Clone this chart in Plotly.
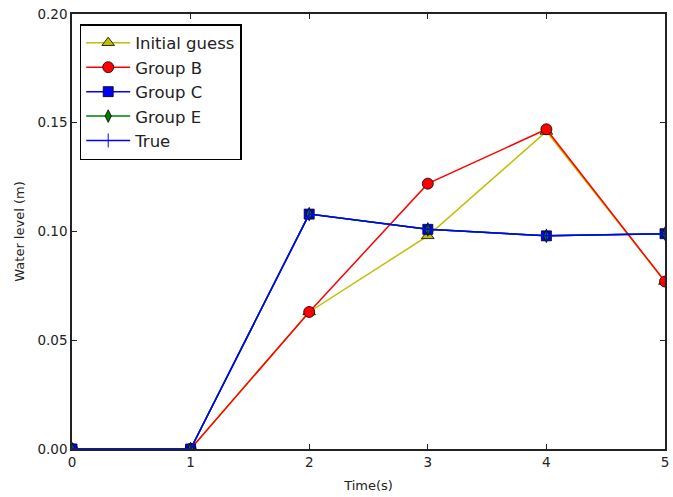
import plotly.graph_objects as go

time_s = [0, 1, 2, 3, 4, 5]
initial_guess = [0.0, 0.0, 0.063, 0.098, 0.146, 0.077]
group_b = [0.0, 0.0, 0.063, 0.122, 0.147, 0.077]
group_c = [0.0, 0.0, 0.108, 0.101, 0.098, 0.099]
group_e = [0.0, 0.0, 0.108, 0.101, 0.098, 0.099]
true_vals = [0.0, 0.0, 0.108, 0.101, 0.098, 0.099]

fig = go.Figure()
fig.add_trace(go.Scatter(x=time_s, y=initial_guess, name="Initial guess", mode="lines+markers",
                         line=dict(color="#bfbf00", width=1.5),
                         marker=dict(symbol="triangle-up", size=11, color="#bfbf00",
                                     line=dict(color="black", width=0.8))))
fig.add_trace(go.Scatter(x=time_s, y=group_b, name="Group B", mode="lines+markers",
                         line=dict(color="#ff0000", width=1.5),
                         marker=dict(symbol="circle", size=11, color="#ff0000",
                                     line=dict(color="black", width=0.8))))
fig.add_trace(go.Scatter(x=time_s, y=group_c, name="Group C", mode="lines+markers",
                         line=dict(color="#0000ff", width=1.5),
                         marker=dict(symbol="square", size=10, color="#0000ff",
                                     line=dict(color="black", width=0.8))))
fig.add_trace(go.Scatter(x=time_s, y=group_e, name="Group E", mode="lines+markers",
                         line=dict(color="#008000", width=1.5),
                         marker=dict(symbol="diamond-tall", size=9, color="#008000",
                                     line=dict(color="black", width=0.8))))
fig.add_trace(go.Scatter(x=time_s, y=true_vals, name="True", mode="lines+markers",
                         line=dict(color="#0000ff", width=1.5),
                         marker=dict(symbol="line-ns", size=10,
                                     line=dict(color="#0000ff", width=1))))

fig.update_layout(
    width=673, height=497,
    margin=dict(l=72, r=4, t=14, b=48),
    paper_bgcolor="white", plot_bgcolor="white",
    font=dict(family="DejaVu Sans", size=13.5, color="#222222"),
    showlegend=True,
    legend=dict(x=0.013, y=0.977, xanchor="left", yanchor="top",
                bgcolor="white", bordercolor="black", borderwidth=1.5,
                font=dict(size=16.5, color="#222222"), tracegroupgap=0,
                itemwidth=44),
    xaxis=dict(range=[0, 5], tickvals=[0, 1, 2, 3, 4, 5], ticks="inside", ticklen=5,
               tickcolor="#222222",
               showline=True, linecolor="#222222", linewidth=1.5, mirror="allticks",
               showgrid=False, zeroline=False,
               title=dict(text="Time(s)", font=dict(size=13), standoff=12)),
    yaxis=dict(range=[0, 0.2], tickvals=[0, 0.05, 0.1, 0.15, 0.2], tickformat=".2f",
               ticks="inside", ticklen=5, tickcolor="#222222",
               showline=True, linecolor="#222222", linewidth=1.5, mirror="allticks",
               showgrid=False, zeroline=False,
               title=dict(text="Water level (m)", font=dict(size=13), standoff=10)),
)

fig.write_html("out.html")
